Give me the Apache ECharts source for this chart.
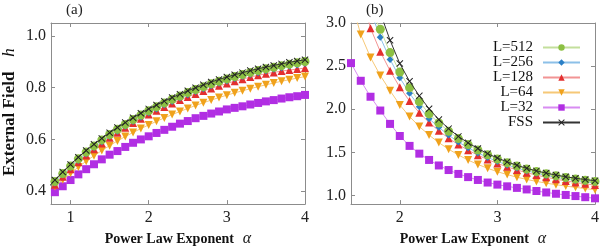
<!DOCTYPE html>
<html><head><meta charset="utf-8">
<script src="https://cdn.jsdelivr.net/npm/echarts@6/dist/echarts.min.js"></script>
<style>html,body{margin:0;padding:0;background:#fff}#c{width:602px;height:252px}</style>
</head><body><div id="c"></div>
<script>
// ---- data ----
const alphaA = [0.8,0.9,1.0,1.1,1.2,1.3,1.4,1.5,1.6,1.7,1.8,1.9,2.0,2.1,2.2,2.3,2.4,2.5,2.6,2.7,2.8,2.9,3.0,3.1,3.2,3.3,3.4,3.5,3.6,3.7,3.8,3.9,4.0];
const alphaAfss = [0.7,0.8,0.9,1.0,1.1,1.2,1.3,1.4,1.5,1.6,1.7,1.8,1.9,2.0,2.1,2.2,2.3,2.4,2.5,2.6,2.7,2.8,2.9,3.0,3.1,3.2,3.3,3.4,3.5,3.6,3.7,3.8,3.9,4.0];
const alphaB = [1.5,1.6,1.7,1.8,1.9,2.0,2.1,2.2,2.3,2.4,2.5,2.6,2.7,2.8,2.9,3.0,3.1,3.2,3.3,3.4,3.5,3.6,3.7,3.8,3.9,4.0];
const seriesNames = ['L=512','L=256','L=128','L=64','L=32','FSS'];

// panel (a): external field h
const hA_512 = [0.437,0.468,0.497,0.525,0.551,0.575,0.598,0.619,0.639,0.658,0.677,0.694,0.711,0.726,0.741,0.755,0.768,0.781,0.793,0.804,0.815,0.825,0.834,0.843,0.851,0.859,0.866,0.873,0.879,0.885,0.891,0.896,0.901];
const hA_256 = [0.432,0.463,0.492,0.519,0.545,0.569,0.591,0.612,0.632,0.651,0.669,0.686,0.703,0.718,0.733,0.747,0.760,0.773,0.785,0.796,0.807,0.817,0.826,0.835,0.843,0.851,0.858,0.865,0.871,0.877,0.883,0.888,0.893];
const hA_128 = [0.425,0.456,0.485,0.512,0.538,0.562,0.584,0.606,0.626,0.645,0.663,0.680,0.696,0.711,0.725,0.739,0.752,0.764,0.776,0.787,0.797,0.807,0.816,0.825,0.833,0.841,0.848,0.854,0.859,0.864,0.868,0.872,0.876];
const hA_64  = [0.418,0.444,0.469,0.493,0.516,0.537,0.557,0.576,0.594,0.611,0.627,0.642,0.656,0.670,0.683,0.696,0.708,0.720,0.731,0.742,0.752,0.762,0.771,0.780,0.788,0.796,0.804,0.811,0.818,0.825,0.831,0.837,0.843];
const hA_32  = [0.396,0.419,0.443,0.465,0.485,0.504,0.523,0.541,0.555,0.571,0.587,0.600,0.612,0.625,0.637,0.649,0.661,0.671,0.682,0.691,0.700,0.708,0.716,0.722,0.728,0.735,0.741,0.747,0.752,0.758,0.763,0.767,0.772];
const hA_fss = [0.410,0.443,0.474,0.503,0.531,0.557,0.581,0.604,0.626,0.646,0.665,0.684,0.701,0.718,0.733,0.748,0.762,0.775,0.788,0.800,0.811,0.822,0.832,0.841,0.850,0.858,0.866,0.873,0.880,0.886,0.892,0.898,0.903,0.908];

// panel (b)
const hB_512 = [3.90,3.50,3.17,2.928,2.657,2.432,2.250,2.088,1.946,1.841,1.745,1.660,1.590,1.527,1.472,1.423,1.380,1.341,1.307,1.277,1.252,1.229,1.209,1.191,1.176,1.163];
const hB_256 = [3.95,3.50,3.14,2.834,2.578,2.365,2.185,2.030,1.890,1.790,1.700,1.620,1.553,1.493,1.441,1.395,1.354,1.318,1.286,1.258,1.233,1.211,1.191,1.174,1.159,1.146];
const hB_128 = [3.90,3.37,2.940,2.668,2.447,2.255,2.095,1.959,1.847,1.750,1.665,1.590,1.525,1.467,1.417,1.372,1.332,1.296,1.264,1.236,1.211,1.189,1.169,1.151,1.135,1.121];
const hB_64  = [3.27,2.866,2.600,2.392,2.215,2.050,1.915,1.800,1.700,1.613,1.537,1.470,1.410,1.360,1.315,1.276,1.242,1.212,1.186,1.163,1.143,1.125,1.109,1.094,1.080,1.067];
const hB_32  = [2.535,2.330,2.145,1.985,1.830,1.690,1.575,1.485,1.412,1.348,1.295,1.250,1.213,1.180,1.150,1.126,1.106,1.088,1.070,1.052,1.035,1.020,1.006,0.993,0.980,0.967];
const hB_fss = [4.60,4.00,3.50,3.12,2.800,2.530,2.325,2.155,2.005,1.880,1.775,1.685,1.610,1.545,1.485,1.435,1.390,1.350,1.315,1.285,1.260,1.237,1.217,1.200,1.185,1.172];

// tick labels
const ticksAx = [1,2,3,4];
const ticksAy = [0.4,0.6,0.8,1.0];
const ticksBx = [2,3,4];
const ticksBy = [1.0,1.5,2.0,2.5,3.0];

// ---- styles ----
const FONT = 'Liberation Serif';
const AX = '#8c8c8c';
const styles = {
  'L=512': {marker:'#8cc043', line:'#c3df9c', symbol:'circle', size:9, rot:0},
  'L=256': {marker:'#2a7fc6', line:'#8cc0e8', symbol:'diamond', size:7, rot:0},
  'L=128': {marker:'#e32f2f', line:'#f29494', symbol:'triangle', size:8, rot:0},
  'L=64':  {marker:'#f0a21c', line:'#f6c877', symbol:'triangle', size:8, rot:180},
  'L=32':  {marker:'#b12ee3', line:'#d88cf2', symbol:'rect', size:8, rot:0},
  'FSS':   {marker:'#222222', line:'#333333', symbol:'path://M0,1L1,0L5,4L9,0L10,1L6,5L10,9L9,10L5,6L1,10L0,9L4,5Z', size:7, rot:0}
};
const dataA = {'L=512':[alphaA,hA_512],'L=256':[alphaA,hA_256],'L=128':[alphaA,hA_128],'L=64':[alphaA,hA_64],'L=32':[alphaA,hA_32],'FSS':[alphaAfss,hA_fss]};
const dataB = {'L=512':[alphaB,hB_512],'L=256':[alphaB,hB_256],'L=128':[alphaB,hB_128],'L=64':[alphaB,hB_64],'L=32':[alphaB,hB_32],'FSS':[alphaB,hB_fss]};
const drawOrder = ['L=32','L=64','L=128','L=256','L=512','FSS'];

function mkSeries(name, xs, ys, axisIdx, z) {
  const s = styles[name];
  return {
    type:'line', name, xAxisIndex:axisIdx, yAxisIndex:axisIdx, clip:true,
    data: xs.map((a,i)=>[a, ys[i]]),
    symbol:s.symbol, symbolSize:s.size, symbolRotate:s.rot, showAllSymbol:true,
    lineStyle:{color:s.line, width:1},
    itemStyle:{color:s.marker, borderWidth:0},
    z, animation:false
  };
}
const series = [];
drawOrder.forEach((n,i)=>{ series.push(mkSeries(n, dataA[n][0], dataA[n][1], 0, 2+i)); });
drawOrder.forEach((n,i)=>{ series.push(mkSeries(n, dataB[n][0], dataB[n][1], 2, 2+i)); });

const richX = {
  b:{fontFamily:FONT, fontWeight:'bold', fontSize:14, color:'#111'},
  i:{fontFamily:FONT, fontStyle:'italic', fontSize:16, color:'#111'}
};
const richY = {
  b:{fontFamily:FONT, fontWeight:'bold', fontSize:17, color:'#111'},
  i:{fontFamily:FONT, fontStyle:'italic', fontSize:17, color:'#111'}
};
function xAx(grid, pos, min, max, ticks, show, name) {
  return {
    type:'value', gridIndex:grid, position:pos, min, max,
    axisLine:{show:true, lineStyle:{color:AX, width:1}},
    axisTick:{show:true, inside:true, length:4, customValues:ticks, lineStyle:{color:AX}},
    axisLabel:{show:show, customValues:ticks, margin:6, fontFamily:FONT, fontSize:16, color:'#222', formatter:v=>String(v)},
    splitLine:{show:false},
    name: name||'', nameLocation:'middle', nameGap:26,
    nameTextStyle:{fontFamily:FONT, color:'#111', rich:richX}
  };
}
function yAx(grid, pos, min, max, ticks, show, name) {
  return {
    type:'value', gridIndex:grid, position:pos, min, max,
    axisLine:{show:true, lineStyle:{color:AX, width:1}},
    axisTick:{show:true, inside:true, length:4, customValues:ticks, lineStyle:{color:AX}},
    axisLabel:{show:show, customValues:ticks, margin:5, fontFamily:FONT, fontSize:16, color:'#222', formatter:v=>v.toFixed(1)},
    splitLine:{show:false},
    name: name||'', nameLocation:'middle', nameGap:33, nameRotate:90,
    nameTextStyle:{fontFamily:FONT, fontSize:12, color:'#111', padding:[0,0,0,3], rich:richY}
  };
}

const option = {
  animation:false,
  backgroundColor:'#fff',
  title:[
    {text:'(a)', left:61, top:-2, textStyle:{fontFamily:FONT, fontSize:15, fontWeight:'normal', color:'#222'}},
    {text:'(b)', left:361, top:-2, textStyle:{fontFamily:FONT, fontSize:15, fontWeight:'normal', color:'#222'}}
  ],
  grid:[
    {left:50, top:23, width:255, height:187},
    {left:351, top:23, width:247, height:186}
  ],
  xAxis:[
    xAx(0,'bottom',0.75,4,ticksAx,true,'{b|Power Law Exponent}   {i|α}'),
    xAx(0,'top',0.75,4,ticksAx,false),
    xAx(1,'bottom',1.5,4,ticksBx,true,'{b|Power Law Exponent}   {i|α}'),
    xAx(1,'top',1.5,4,ticksBx,false)
  ],
  yAxis:[
    yAx(0,'left',0.35,1.05,ticksAy,true,'{b|External Field}     {i|h}'),
    yAx(0,'right',0.35,1.05,ticksAy,false),
    yAx(1,'left',0.9,3.0,ticksBy,true),
    yAx(1,'right',0.9,3.0,ticksBy,false)
  ],
  legend:{
    data:seriesNames, orient:'vertical', align:'right', right:21, top:40,
    padding:0, itemGap:0, itemWidth:37, itemHeight:8,
    textStyle:{fontFamily:FONT, fontSize:15, color:'#111', lineHeight:14.4, padding:[0,5,0,0]}
  },
  series
};
const chart = echarts.init(document.getElementById('c'), null, {renderer:'canvas'});
chart.setOption(option);
</script></body></html>
